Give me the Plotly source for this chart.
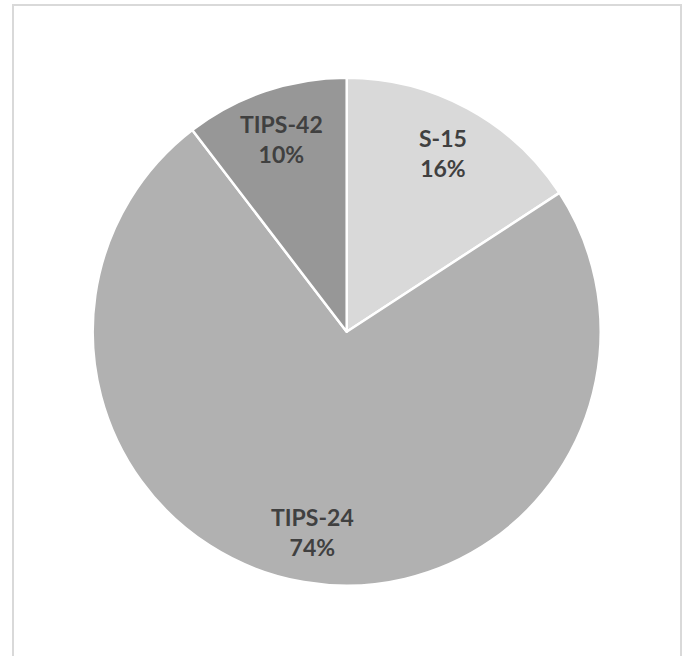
import math
import plotly.graph_objects as go

labels = ["S-15", "TIPS-24", "TIPS-42"]
values = [15.8, 73.8, 10.4]
colors = ["#d9d9d9", "#b1b1b1", "#979797"]

W, H = 686, 656
cx, cy, R = 346.7, 331.7, 254.0  # pie centre / radius in px

fig = go.Figure(go.Pie(
    labels=labels, values=values, sort=False, direction="clockwise", rotation=0,
    marker=dict(colors=colors, line=dict(color="white", width=2.5)),
    textinfo="none", hoverinfo="label+percent", showlegend=False,
    domain=dict(x=[(cx - R) / W, (cx + R) / W], y=[(H - cy - R) / H, (H - cy + R) / H]),
))

# labels at mid-angle of each slice
total = sum(values)
cum = 0.0
annotations = []
for lab, v in zip(labels, values):
    mid = (cum + v / 2) / total * 2 * math.pi
    cum += v
    r = 0.8 * R
    x = cx + r * math.sin(mid)
    y = cy - r * math.cos(mid)
    annotations.append(dict(
        x=x / W, y=1 - y / H, xref="paper", yref="paper", showarrow=False,
        text=f"<b>{lab}<br>{round(v / total * 100)}%</b>",
        font=dict(family="Lato, 'DejaVu Sans', sans-serif", size=23, color="#404040"),
        align="center", xanchor="center", yanchor="middle",
    ))

fig.update_layout(
    width=W, height=H, margin=dict(l=0, r=0, t=0, b=0),
    paper_bgcolor="white", plot_bgcolor="white",
    annotations=annotations,
    shapes=[dict(type="rect", xref="paper", yref="paper",
                 x0=13 / W, x1=681 / W, y0=-0.05, y1=1 - 5 / H,
                 line=dict(color="#d9d9d9", width=2), fillcolor="rgba(0,0,0,0)")],
)

fig.write_html("out.html")
